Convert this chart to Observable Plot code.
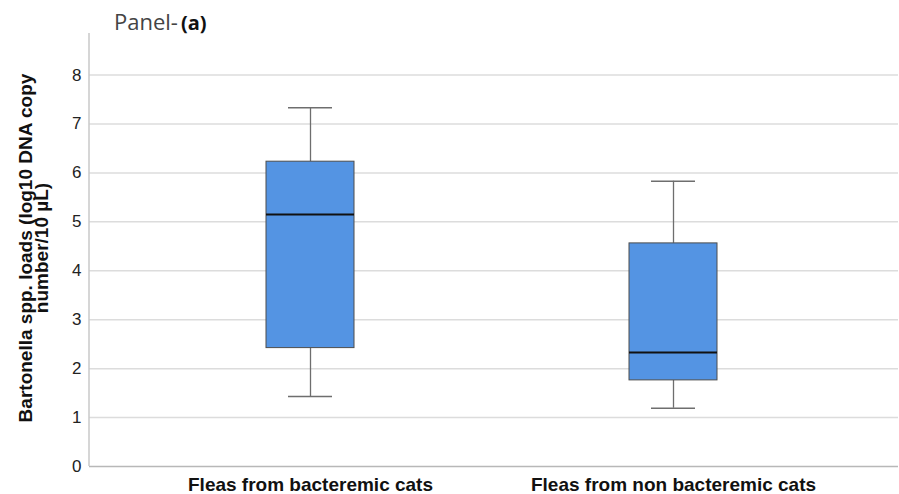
<!DOCTYPE html>
<html>
<head>
<meta charset="utf-8">
<script src="https://cdn.jsdelivr.net/npm/d3@7"></script>
<script src="https://cdn.jsdelivr.net/npm/@observablehq/plot@0.6"></script>
<style>
  html, body { margin: 0; padding: 0; background: #fff; }
  #chart svg { display: block; font-family: "Liberation Sans", Arial, sans-serif; }
  g[aria-label="x-axis tick label"] text { font-weight: bold; }
</style>
</head>
<body>
<div id="chart"></div>
<script>
const categories = ["Fleas from bacteremic cats", "Fleas from non bacteremic cats"];
const whiskerLow = [1.43, 1.19];
const q1 = [2.42, 1.76];
const median = [5.15, 2.33];
const q3 = [6.23, 4.56];
const whiskerHigh = [7.33, 5.83];
const yTicks = [0, 1, 2, 3, 4, 5, 6, 7, 8];
const yMax = 8.85;
const titleNormal = "Panel-";
const titleBold = "(a)";
const yLabelLines = ["Bartonella spp. loads (log10 DNA copy", "number/10 µL)"];

const data = categories.map((c, i) => ({
  cat: c, lo: whiskerLow[i], q1: q1[i], med: median[i], q3: q3[i], hi: whiskerHigh[i]
}));

const W = 899, H = 494;
const mL = 89, mR = 1, mT = 33, mB = 28;

const plot = Plot.plot({
  width: W,
  height: H,
  marginLeft: mL,
  marginRight: mR,
  marginTop: mT,
  marginBottom: mB,
  style: { fontFamily: '"Liberation Sans", Arial, sans-serif', background: "#fff" },
  x: { domain: categories, paddingInner: 0.758, paddingOuter: 0.493, align: 0.494, label: null },
  y: { domain: [0, yMax], label: null },
  marks: [
    Plot.ruleY(yTicks.filter(d => d > 0), { stroke: "#dcdcdc", strokeWidth: 1.5 }),
    Plot.ruleY([0], { stroke: "#b8b8b8", strokeWidth: 1.5 }),
    Plot.ruleX(data, { x: "cat", y1: "q3", y2: "hi", stroke: "#6e6e6e", strokeWidth: 1.3 }),
    Plot.ruleX(data, { x: "cat", y1: "lo", y2: "q1", stroke: "#6e6e6e", strokeWidth: 1.3 }),
    Plot.tickY(data, { x: "cat", y: "hi", stroke: "#6e6e6e", strokeWidth: 1.5, insetLeft: 22, insetRight: 22 }),
    Plot.tickY(data, { x: "cat", y: "lo", stroke: "#6e6e6e", strokeWidth: 1.5, insetLeft: 22, insetRight: 22 }),
    Plot.barY(data, { x: "cat", y1: "q1", y2: "q3", fill: "#5494e3", stroke: "#4d4d4d", strokeWidth: 1 }),
    Plot.tickY(data, { x: "cat", y: "med", stroke: "#111", strokeWidth: 2 }),
    Plot.axisY({ ticks: yTicks, tickSize: 0, tickPadding: 8, fontSize: 17, tickFormat: d => String(d), color: "#222" }),
    Plot.axisX({ tickSize: 0, tickPadding: 11, fontSize: 19, color: "#111" })
  ]
});

document.getElementById("chart").appendChild(plot);

const svg = d3.select(plot);
const y = plot.scale("y");
// left axis line
svg.append("line")
  .attr("x1", mL).attr("x2", mL)
  .attr("y1", y.apply(yMax)).attr("y2", y.apply(0))
  .attr("stroke", "#c8c8c8").attr("stroke-width", 1.5);

// title
const t = svg.append("text")
  .attr("x", 114).attr("y", 30)
  .attr("text-anchor", "start")
  .attr("font-family", '"Open Sans", "Noto Sans", sans-serif')
  .attr("font-size", 22).attr("fill", "#444");
t.append("tspan").text(titleNormal);
t.append("tspan").attr("dx", 3).attr("font-weight", "bold").attr("fill", "#111").attr("font-size", 20)
  .text(titleBold);

// y label (two lines, rotated)
const cy = 248;
const yl = svg.append("text")
  .attr("transform", `translate(32,${cy}) rotate(-90)`)
  .attr("text-anchor", "middle")
  .attr("font-weight", "bold").attr("font-size", 19).attr("fill", "#111");
yl.append("tspan").attr("x", 0).attr("y", 0).text(yLabelLines[0]);
yl.append("tspan").attr("x", 0).attr("y", 16).text(yLabelLines[1]);
</script>
</body>
</html>
